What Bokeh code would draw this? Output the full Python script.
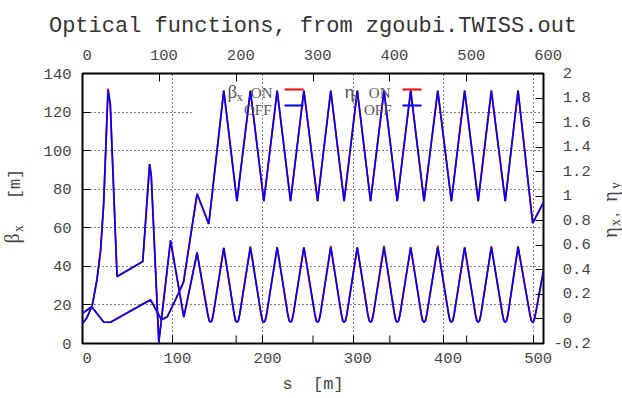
import math
from bokeh.plotting import figure
from bokeh.layouts import row
from bokeh.models import (Range1d, LinearAxis, FixedTicker, CustomJSTickFormatter,
                          Label, BoxAnnotation, Title)
from bokeh.embed import file_html
from bokeh.resources import INLINE

TITLE = "Optical functions, from zgoubi.TWISS.out"
X_LABEL = "s\u00a0\u00a0[m]"
X_MAX = 511.0
X2_MAX = 600.0
X_TICKS = [0, 100, 200, 300, 400, 500]
X2_TICKS = [0, 100, 200, 300, 400, 500, 600]
Y_TICKS = [0, 20, 40, 60, 80, 100, 120, 140]
Y2_TICKS = [-0.2, 0, 0.2, 0.4, 0.6, 0.8, 1, 1.2, 1.4, 1.6, 1.8, 2]

# beta_x [m] vs s [m]
s_beta = [0, 5, 10.8, 16, 20, 23.4, 28.3, 30.8, 38.3, 66.8, 74.4, 76.2, 84.6, 97.6, 112.3, 127.0,
          138.9, 140.4, 141.9, 143.4, 144.9, 156.6,
          168.2, 169.7, 171.2, 172.7, 174.2, 186.1,
          198.0, 199.5, 201.0, 202.5, 204.0, 215.8,
          227.6, 229.1, 230.6, 232.1, 233.6, 245.4,
          257.6, 259.1, 260.6, 262.1, 263.6, 275.2,
          287.0, 288.5, 290.0, 291.5, 293.0, 304.6,
          316.3, 317.8, 319.3, 320.8, 322.3, 334.2,
          345.9, 347.4, 348.9, 350.4, 351.9, 363.8,
          375.6, 377.1, 378.6, 380.1, 381.6, 393.8,
          405.9, 407.4, 408.9, 410.4, 411.9, 423.6,
          435.6, 437.1, 438.6, 440.1, 441.6, 453.2,
          465.6, 467.1, 468.6, 470.1, 471.6, 482.8,
          496.0, 497.5, 499.0, 500.5, 502.0, 511.0]
beta_off = [10.4, 13.5, 19.7, 33.0, 48.0, 72.0, 131.3, 124.0, 34.7, 42.5, 93.0, 87.0, 0.8, 53.4, 13.7, 46.8,
            15.0, 11.8, 11.0, 11.8, 15.0, 49.6,
            15.0, 11.8, 11.0, 11.8, 15.0, 49.9,
            15.0, 11.8, 11.0, 11.8, 15.0, 49.9,
            15.0, 11.8, 11.0, 11.8, 15.0, 49.9,
            15.0, 11.8, 11.0, 11.8, 15.0, 49.9,
            15.0, 11.8, 11.0, 11.8, 15.0, 49.9,
            15.0, 11.8, 11.0, 11.8, 15.0, 49.9,
            15.0, 11.8, 11.0, 11.8, 15.0, 49.9,
            15.0, 11.8, 11.0, 11.8, 15.0, 49.9,
            15.0, 11.8, 11.0, 11.8, 15.0, 49.9,
            15.0, 11.8, 11.0, 11.8, 15.0, 49.9,
            15.0, 11.8, 11.0, 11.8, 15.0, 49.9,
            15.0, 11.8, 11.0, 11.8, 15.0, 37.8]
beta_on = [10.4, 13.5, 19.7, 33.0, 48.0, 72.0, 132.2, 124.0, 34.7, 42.5, 93.0, 87.0, 0.8, 53.4, 13.7, 47.4,
           15.0, 11.8, 11.0, 11.8, 15.0, 49.6,
           15.0, 11.8, 11.0, 11.8, 15.0, 50.4,
           15.0, 11.8, 11.0, 11.8, 15.0, 49.9,
           15.0, 11.8, 11.0, 11.8, 15.0, 49.9,
           15.0, 11.8, 11.0, 11.8, 15.0, 50.6,
           15.0, 11.8, 11.0, 11.8, 15.0, 49.9,
           15.0, 11.8, 11.0, 11.8, 15.0, 50.7,
           15.0, 11.8, 11.0, 11.8, 15.0, 49.9,
           15.0, 11.8, 11.0, 11.8, 15.0, 50.7,
           15.0, 11.8, 11.0, 11.8, 15.0, 49.9,
           15.0, 11.8, 11.0, 11.8, 15.0, 50.5,
           15.0, 11.8, 11.0, 11.8, 15.0, 50.5,
           15.0, 11.8, 11.0, 11.8, 15.0, 37.8]

# eta_x [m] vs s [m] (right axis)
s_eta = [0, 10.2, 23.6, 31.0, 75.4, 87.6, 93.9, 101.0, 112.0, 127.0, 140.0,
         156.6, 171.2, 186.1, 201.0, 215.8, 230.6, 245.4, 260.6, 275.2, 290.0,
         304.6, 319.3, 334.2, 348.9, 363.8, 378.6, 393.8, 408.9, 423.6, 438.6,
         453.2, 468.6, 482.8, 499.0, 511.0]
eta_off = [0.047, 0.099, -0.027, -0.027, 0.155, -0.007, 0.017, 0.124, 0.30, 1.02, 0.774,
           1.86, 0.96, 1.86, 0.96, 1.86, 0.96, 1.86, 0.96, 1.86, 0.96,
           1.86, 0.96, 1.86, 0.96, 1.86, 0.96, 1.86, 0.96, 1.86, 0.96,
           1.86, 0.96, 1.86, 0.78, 0.95]
eta_on = [0.047, 0.099, -0.025, -0.027, 0.158, -0.007, 0.017, 0.124, 0.30, 1.02, 0.774,
          1.86, 0.96, 1.86, 0.96, 1.86, 0.96, 1.86, 0.96, 1.86, 0.96,
          1.86, 0.96, 1.86, 0.96, 1.86, 0.96, 1.86, 0.96, 1.86, 0.96,
          1.86, 0.96, 1.86, 0.78, 0.95]

MONO = "Liberation Mono"
SERIF = "Liberation Serif"
TXT = "#444444"
RED = "#ff0000"
BLUE = "#0000ff"

H = 398
LEFT_W = 36          # side strip holding the rotated left axis title
RIGHT_W = 22         # side strip holding the rotated right axis title
MAIN_W = 622 - LEFT_W - RIGHT_W
FRAME_L = 82 - LEFT_W   # frame left inside main figure
FRAME_R = 543 - LEFT_W  # frame right inside main figure

p = figure(width=MAIN_W, height=H, output_backend="svg", toolbar_location=None,
           x_range=Range1d(0, X_MAX), y_range=Range1d(0, 140),
           min_border_left=FRAME_L, min_border_right=MAIN_W - FRAME_R,
           min_border_top=73, min_border_bottom=55)
p.extra_x_ranges = {"x2": Range1d(0, X2_MAX)}
p.extra_y_ranges = {"y2": Range1d(-0.2, 2)}
p.background_fill_color = "white"
p.border_fill_color = "white"
p.outline_line_color = "black"
p.outline_line_width = 2

p.title = Title(text=TITLE, align="center", text_font=MONO, text_font_size="22px",
                text_font_style="normal", text_color="#333333", standoff=10,
                text_line_height=0.7)

fmt_pad = "const v = Math.round(tick*10)/10; return (v < 0 ? '' : '\u00a0') + v.toString();"
fmt_plain = "const v = Math.round(tick*10)/10; return v.toString();"

def style_axis(ax, ticker, standoff, code=fmt_pad):
    ax.ticker = FixedTicker(ticks=ticker)
    ax.formatter = CustomJSTickFormatter(code=code)
    ax.axis_line_color = None
    ax.major_tick_in = 8
    ax.major_tick_out = 0
    ax.minor_tick_in = 0
    ax.minor_tick_out = 0
    ax.major_tick_line_color = "black"
    ax.major_tick_line_width = 1
    ax.major_label_text_font = MONO
    ax.major_label_text_font_size = "15.5px"
    ax.major_label_text_color = TXT
    ax.major_label_standoff = standoff

xb = p.xaxis[0]
yl = p.yaxis[0]
style_axis(xb, X_TICKS, 6)
style_axis(yl, Y_TICKS, 11, code=fmt_plain)
xb.axis_label = X_LABEL
xb.axis_label_text_font = MONO
xb.axis_label_text_font_size = "17px"
xb.axis_label_text_font_style = "normal"
xb.axis_label_text_color = TXT
xb.axis_label_standoff = 4

xt = LinearAxis(x_range_name="x2")
style_axis(xt, X2_TICKS, 9)
p.add_layout(xt, "above")
yr = LinearAxis(y_range_name="y2")
style_axis(yr, Y2_TICKS, 10)
p.add_layout(yr, "right")

for g in (p.xgrid[0], p.ygrid[0]):
    g.grid_line_color = "black"
    g.grid_line_dash = "1 3"
    g.grid_line_width = 1

# key background (hides the horizontal grid line behind the key)
p.add_layout(BoxAnnotation(left=123, right=386, bottom=118.5, top=121.5, fill_color="white",
                           fill_alpha=1, line_color=None, level="underlay"))

# mirrored x2 ticks on bottom border
tick_len = 8 * 140 / 270
mx = [t * X_MAX / X2_MAX for t in X2_TICKS[1:-1]]
p.segment(x0=mx, y0=[0] * len(mx), x1=mx, y1=[tick_len] * len(mx), line_color="black", line_width=1)

LW = 1.7
p.line(s_beta, beta_on, line_color=RED, line_width=LW)
p.line(s_beta, beta_off, line_color=BLUE, line_width=LW)
p.line(s_eta, eta_on, line_color=RED, line_width=LW, y_range_name="y2")
p.line(s_eta, eta_off, line_color=BLUE, line_width=LW, y_range_name="y2")

FB = 343  # frame bottom (page px); side strips share it through row alignment

def lab(fig, text, x, y, font, size, align="left", baseline="alphabetic", angle=0.0, x0=0, color=TXT):
    fig.add_layout(Label(x=x - x0, y=FB - y, x_units="screen", y_units="screen",
                         text=text, text_font=font, text_font_size=size, text_color=color,
                         text_align=align, text_baseline=baseline, angle=angle))

# legend (inside the frame; positions in page px)
for (t, x, y, f, s, a) in [("β", 227, 91, SERIF, "19px", "left"), ("x", 236, 96, SERIF, "13px", "left"),
                           ("ON", 272, 92, SERIF, "15px", "right"), ("OFF", 271, 109, SERIF, "15px", "right"),
                           ("η", 344, 91, SERIF, "19px", "left"), ("x", 352, 96, SERIF, "13px", "left"),
                           ("ON", 390, 92, SERIF, "15px", "right"), ("OFF", 391, 109, SERIF, "15px", "right")]:
    lab(p, t, x, y, f, s, align=a, x0=82, color="#555555")
for (xa, xc, yy, c) in [(284, 303, 89, RED), (284, 303, 105, BLUE), (402, 421, 89, RED), (402, 421, 105, BLUE)]:
    p.add_layout(BoxAnnotation(left=xa - 82, right=xc - 82, bottom=FB - yy - 1,
                               top=FB - yy + 1, left_units="screen", right_units="screen",
                               bottom_units="screen", top_units="screen", fill_color=c, fill_alpha=1,
                               line_color=None))

def side_fig(w):
    f = figure(width=w, height=H, output_backend="svg", toolbar_location=None,
               x_range=Range1d(0, w), y_range=Range1d(0, H), min_border=0,
               x_axis_location=None, y_axis_location=None)
    f.outline_line_color = None
    f.xgrid.visible = False
    f.ygrid.visible = False
    f.background_fill_color = "white"
    f.border_fill_color = "white"
    return f

A = math.pi / 2
lf = side_fig(LEFT_W)
lab(lf, "β", 11, 238, SERIF, "20px", align="center", baseline="middle", angle=A)
lab(lf, "x", 18, 228, SERIF, "14px", align="center", baseline="middle", angle=A)
lab(lf, "[m]", 14.5, 183.5, MONO, "17px", align="center", baseline="middle", angle=A)

rf = side_fig(RIGHT_W)
RX = 622 - RIGHT_W
lab(rf, "η", 609, 232, SERIF, "20px", align="center", baseline="middle", angle=A, x0=RX)
lab(rf, "x", 615, 222, SERIF, "14px", align="center", baseline="middle", angle=A, x0=RX)
lab(rf, ",", 612, 214, SERIF, "15px", align="center", baseline="alphabetic", angle=A, x0=RX)
lab(rf, "η", 609, 196, SERIF, "20px", align="center", baseline="middle", angle=A, x0=RX)
lab(rf, "y", 615, 185, SERIF, "14px", align="center", baseline="middle", angle=A, x0=RX)

layout = row(lf, p, rf, spacing=0)
open("out.html", "w").write(file_html(layout, INLINE))
